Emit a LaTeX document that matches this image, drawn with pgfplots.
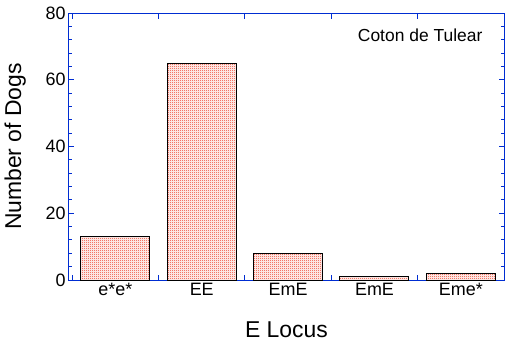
\documentclass[border=0pt]{standalone}
\usepackage{fontspec}
\setmainfont{Liberation Sans}
\usepackage{pgfplots}
\pgfplotsset{compat=1.18}
\usetikzlibrary{patterns}
\definecolor{axblue}{RGB}{0,45,210}
\definecolor{chkred}{RGB}{235,45,20}
\pgfdeclarepatternformonly{checker}{\pgfpointorigin}{\pgfpoint{2bp}{2bp}}{\pgfpoint{2bp}{2bp}}{%
  \pgfpathrectangle{\pgfpointorigin}{\pgfpoint{1bp}{1bp}}%
  \pgfpathrectangle{\pgfpoint{1bp}{1bp}}{\pgfpoint{1bp}{1bp}}%
  \pgfusepath{fill}}
\begin{document}
\begin{tikzpicture}
\useasboundingbox (-69bp,-61bp) rectangle (443bp,280bp);
\begin{axis}[
  at={(0,0)}, anchor=south west,
  scale only axis, width=435bp, height=267bp,
  xmin=0.465, xmax=5.5, ymin=0, ymax=80,
  axis line style={axblue, line width=1bp},
  tick style={axblue, line width=1bp},
  tick align=inside,
  xtick={0.5,1.5,2.5,3.5,4.5,5.5},
  xticklabels={e*e*,EE,EmE,EmE,Eme*,{}},
  xticklabel style={xshift=43.3bp},
  ytick={0,20,40,60,80},
  minor y tick num=4,
  major tick length=5.5bp, minor tick length=3bp,
  tick label style={font=\fontsize{18}{20}\selectfont, black},
  /pgf/number format/assume math mode=true,
  xlabel={E Locus}, ylabel={Number of Dogs},
  label style={font=\fontsize{23}{27}\selectfont},
  xlabel style={at={(axis description cs:0.5,-0.2135)}, anchor=base},
  ylabel style={at={(axis description cs:-0.1103,0.5)}, anchor=base},
]
\addplot[ybar, bar width=0.8, draw=black, line width=1bp, pattern=checker, pattern color=chkred]
  coordinates {(1,13) (2,65) (3,8) (4,1) (5,2)};
\node[anchor=base east, font=\fontsize{17.5}{20}\selectfont] at (axis cs:5.29,71.5) {Coton de Tulear};
\end{axis}
\end{tikzpicture}
\end{document}
